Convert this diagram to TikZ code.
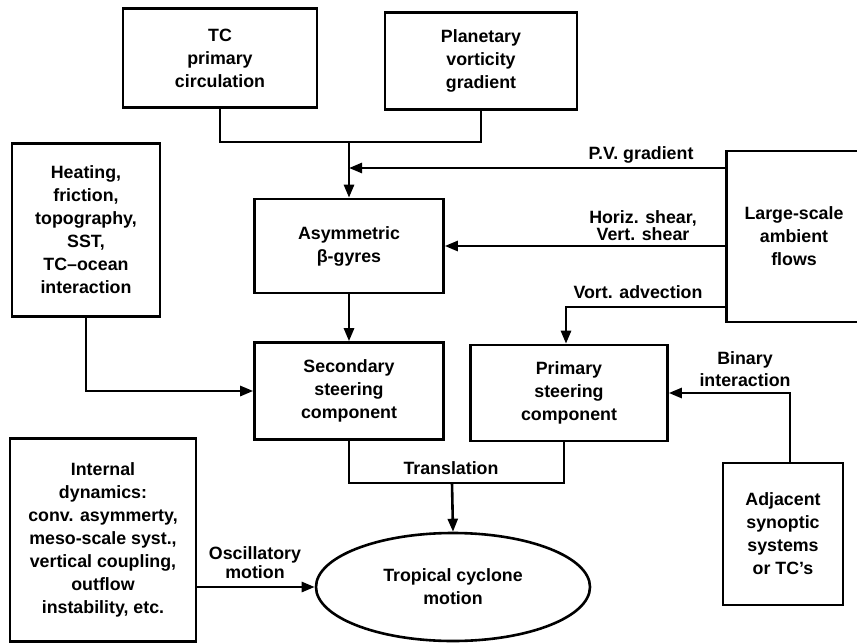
\documentclass[tikz,border=0pt]{standalone}
\usepackage{fontspec}
\setmainfont{Liberation Sans}
\usetikzlibrary{arrows.meta,shapes.geometric}
\begin{document}
\begin{tikzpicture}[x=1pt,y=-1pt,
  every node/.style={font=\fontsize{17.8}{23}\selectfont\bfseries},
  box/.style={draw,line width=2.6pt,rectangle,align=center,inner sep=0pt},
  lab/.style={align=center,inner sep=0pt,font=\fontsize{17.8}{19}\selectfont\bfseries},
  arr/.style={-{Triangle[length=13pt,width=10pt]}},
  ln/.style={line width=2.6pt}]
\clip (0,0) rectangle (857,643);
\fill[white] (0,0) rectangle (857,643);
\useasboundingbox (0,0) rectangle (857,643);
\begin{scope}[ln]
\node[box,minimum width=194pt,minimum height=99pt] (tc) at (220,58) {TC\\primary\\circulation};
\node[box,minimum width=192pt,minimum height=97pt] (pv) at (481,61) {Planetary\\vorticity\\gradient};
\node[box,minimum width=189pt,minimum height=94pt] (asym) at (349,246) {Asymmetric\\β-gyres};
\node[box,minimum width=148pt,minimum height=173pt] (heat) at (86,230) {Heating,\\friction,\\topography,\\SST,\\TC--ocean\\interaction};
\node[box,minimum width=143pt,minimum height=171pt,text width=130pt] (lsaf) at (798,236.5) {\hspace*{-8pt}Large-scale\\\hspace*{-8pt}ambient\\\hspace*{-8pt}flows};
\node[box,minimum width=189pt,minimum height=97pt] (sec) at (349,391) {Secondary\\steering\\component};
\node[box,minimum width=197pt,minimum height=96pt] (prim) at (569,393) {Primary\\steering\\component};
\node[box,minimum width=120pt,minimum height=142pt] (adj) at (783,534) {Adjacent\\synoptic\\systems\\or TC's};
\node[box,minimum width=186pt,minimum height=203pt] (intd) at (103,540) {Internal\\dynamics:\\conv. asymmerty,\\meso-scale syst.,\\vertical coupling,\\outflow\\instability, etc.};
\node[box,ellipse,minimum width=274pt,minimum height=108pt] (tcm) at (453,587) {Tropical cyclone\\motion};

\coordinate (join) at (349,142);
\coordinate (pvend) at (349,168);
\coordinate (vastart) at (727,307);
\coordinate (tj) at (452,483);

\draw (tc.south) |- (join) -| (pv.south);
\draw[arr] (join) -- (asym.north);
\draw[arr] (lsaf.west |- pvend) -- (pvend);
\draw[arr] (lsaf.west |- asym.east) -- (asym.east);
\draw[arr] (vastart) -| ([xshift=-3pt]prim.north);
\draw[arr] (heat.south) |- (sec.west);
\draw[arr] (asym.south) -- (sec.north);
\draw[arr] ([xshift=7pt]adj.north) |- (prim.east);
\draw (sec.south) |- (tj) -| ([xshift=-5pt]prim.south);
\draw[arr] (tj) -- (tcm.north);
\draw[arr] (intd.east |- tcm.west) -- (tcm.west);
\end{scope}

\node[lab] (l1) at (641,155) {P.V. gradient};
\node[lab,font=\fontsize{17.8}{17}\selectfont\bfseries] (l2) at (643,226) {Horiz. shear,\\Vert. shear};
\node[lab] (l3) at (638,292) {Vort. advection};
\node[lab,font=\fontsize{17.8}{22}\selectfont\bfseries] (l4) at (745,369) {Binary\\interaction};
\node[lab] (l5) at (451,468) {Translation};
\node[lab] (l6) at (255,563) {Oscillatory\\motion};
\end{tikzpicture}
\end{document}
